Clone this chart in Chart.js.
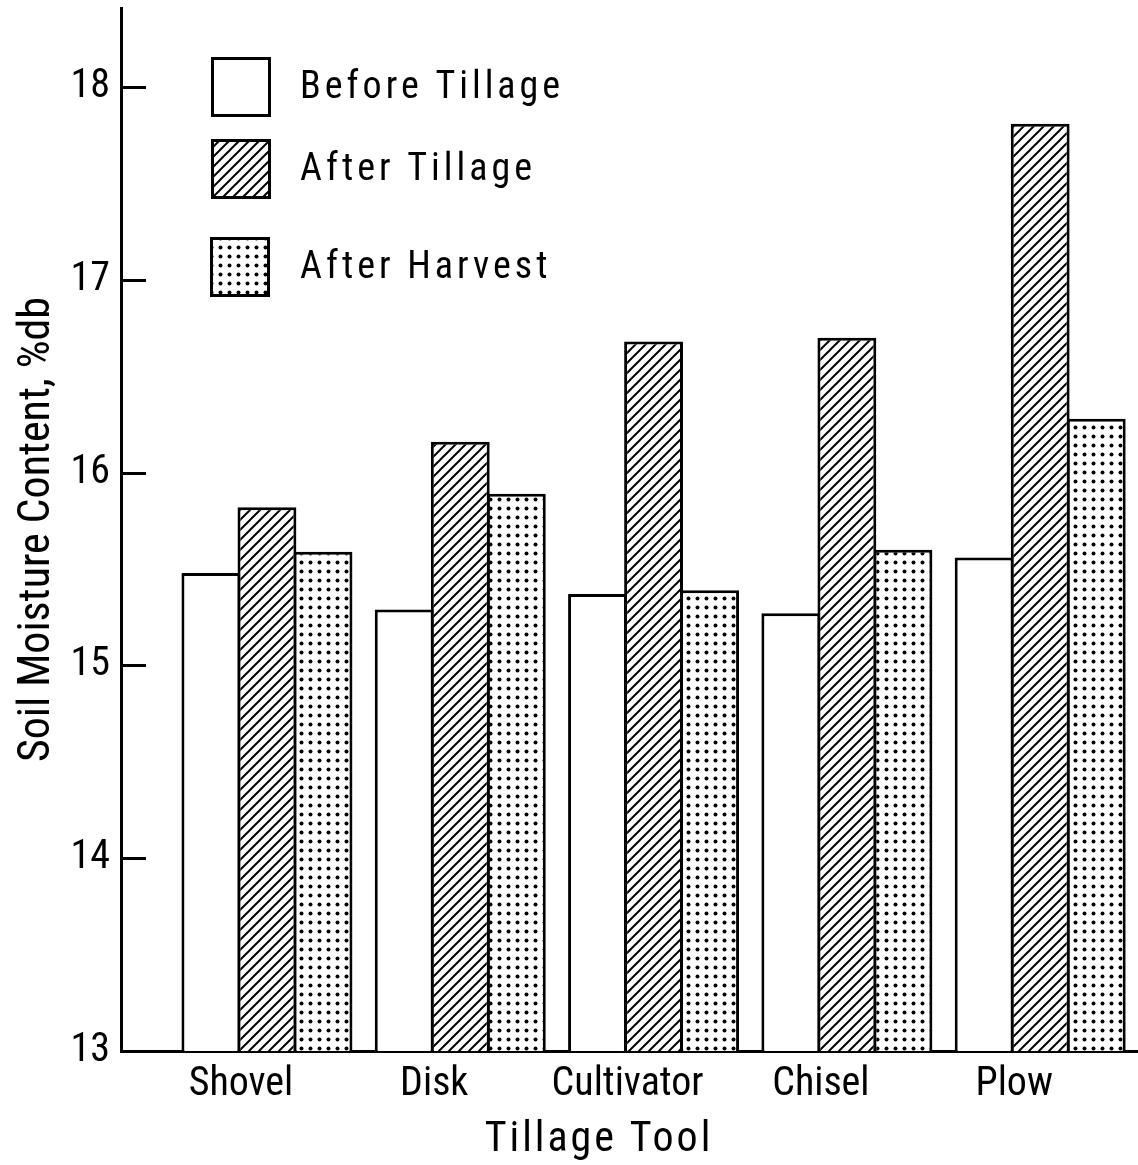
<!DOCTYPE html>
<html><head><meta charset="utf-8">
<script src="https://cdn.jsdelivr.net/npm/chart.js@4/dist/chart.umd.min.js"></script>
<style>html,body{margin:0;padding:0;background:#fff;overflow:hidden}#wrap{width:1138px;height:1165px}</style>
</head><body><div id="wrap"><canvas id="c" width="1138" height="1165"></canvas></div>
<script>
const categories = ['Shovel', 'Disk', 'Cultivator', 'Chisel', 'Plow'];
const seriesNames = ['Before Tillage', 'After Tillage', 'After Harvest'];
const beforeTillage = [15.48, 15.29, 15.37, 15.27, 15.56];
const afterTillage = [15.82, 16.16, 16.68, 16.70, 17.81];
const afterHarvest = [15.59, 15.89, 15.39, 15.60, 16.28];
const yTickValues = [13, 14, 15, 16, 17, 18];
const yAxisTitle = 'Soil Moisture Content, %db';
const xAxisTitle = 'Tillage Tool';

const canvas = document.getElementById('c');
const ctx = canvas.getContext('2d');

function hatchPattern() {
  const s = 10, c = document.createElement('canvas');
  c.width = c.height = s;
  const g = c.getContext('2d');
  g.fillStyle = '#fff'; g.fillRect(0, 0, s, s);
  g.strokeStyle = '#000'; g.lineWidth = 2; g.lineCap = 'square';
  g.beginPath();
  g.moveTo(-2, s + 2); g.lineTo(s + 2, -2);
  g.moveTo(-2, 2); g.lineTo(2, -2);
  g.moveTo(s - 2, s + 2); g.lineTo(s + 2, s - 2);
  g.stroke();
  return ctx.createPattern(c, 'repeat');
}
function dotPattern() {
  const s = 9, c = document.createElement('canvas');
  c.width = c.height = s;
  const g = c.getContext('2d');
  g.fillStyle = '#fff'; g.fillRect(0, 0, s, s);
  g.fillStyle = '#000';
  g.beginPath(); g.arc(4.5, 4.5, 2.0, 0, Math.PI * 2); g.fill();
  return ctx.createPattern(c, 'repeat');
}
const fills = ['#ffffff', hatchPattern(), dotPattern()];
const seriesValues = [beforeTillage, afterTillage, afterHarvest];

const datasets = seriesNames.map((name, k) => ({
  label: name,
  data: categories.map((_, i) => ({ x: i, y: seriesValues[k][i] })),
  backgroundColor: fills[k],
  borderColor: '#000',
  borderWidth: 3,
  borderSkipped: 'bottom',
  categoryPercentage: 0.87,
  barPercentage: 1.05
}));

const FONT = "'Roboto Condensed', 'DejaVu Sans Condensed', sans-serif";

const legendPlugin = {
  id: 'customLegend',
  afterDraw(chart) {
    const c = chart.ctx;
    const boxes = [{ x: 211, y: 57 }, { x: 211, y: 139 }, { x: 210, y: 237 }];
    const size = 60;
    c.save();
    chart.data.datasets.forEach((ds, k) => {
      const b = boxes[k];
      c.fillStyle = ds.backgroundColor;
      c.fillRect(b.x, b.y, size, size);
      c.lineWidth = 3; c.strokeStyle = '#000';
      c.strokeRect(b.x + 1.5, b.y + 1.5, size - 3, size - 3);
      c.fillStyle = '#000';
      c.font = '38px ' + FONT;
      c.letterSpacing = '4px';
      c.textBaseline = 'middle';
      c.textAlign = 'left';
      c.fillText(ds.label, 300, b.y + size / 2 + 1);
    });
    c.restore();
  }
};

const axisExtrasPlugin = {
  id: 'axisExtras',
  afterDraw(chart) {
    const c = chart.ctx, y = chart.scales.y, x = chart.scales.x;
    c.save();
    c.strokeStyle = '#000'; c.lineWidth = 3;
    y.ticks.forEach(t => {
      const py = Math.round(y.getPixelForValue(t.value)) + 0.5;
      c.beginPath(); c.moveTo(x.left, py); c.lineTo(x.left + 25, py); c.stroke();
    });
    c.fillStyle = '#000';
    c.font = '42px ' + FONT;
    c.letterSpacing = '3px';
    c.textAlign = 'center';
    c.textBaseline = 'middle';
    c.fillText(chart.options.scales.x.title.text, 599, 1140);
    c.restore();
  }
};

new Chart(ctx, {
  type: 'bar',
  data: { datasets },
  options: {
    responsive: false,
    animation: false,
    devicePixelRatio: 1,
    layout: { padding: { top: 8, right: 0, bottom: 0, left: 0 } },
    plugins: { legend: { display: false }, tooltip: { enabled: false } },
    scales: {
      x: {
        type: 'linear',
        offset: false,
        min: -0.755,
        max: 4.506,
        afterBuildTicks(s) { s.ticks = categories.map((_, i) => ({ value: i })); },
        afterFit(s) { s.height = 114; s.paddingLeft = 0; s.paddingRight = 0; },
        grid: { display: false, drawTicks: false, offset: false },
        border: { display: true, color: '#000', width: 3 },
        ticks: {
          autoSkip: false,
          maxRotation: 0,
          padding: 10,
          labelOffset: -26,
          color: '#000',
          font: { family: FONT, size: 40 },
          callback: (v) => categories[Math.round(v)] ?? ''
        },
        title: { display: false, text: xAxisTitle }
      },
      y: {
        type: 'linear',
        min: 13,
        max: 18.41,
        afterBuildTicks(s) { s.ticks = yTickValues.map(v => ({ value: v })); },
        afterFit(s) { s.width = 121; s.paddingTop = 0; s.paddingBottom = 0; },
        grid: { display: false, drawTicks: false },
        border: { display: true, color: '#000', width: 3 },
        ticks: {
          padding: 11,
          color: '#000',
          font: { family: FONT, size: 40 }
        },
        title: {
          display: true,
          text: yAxisTitle,
          color: '#000',
          font: { family: FONT, size: 44 },
          padding: { top: 12, bottom: 0 }
        }
      }
    }
  },
  plugins: [legendPlugin, axisExtrasPlugin]
});
</script>
</body></html>
